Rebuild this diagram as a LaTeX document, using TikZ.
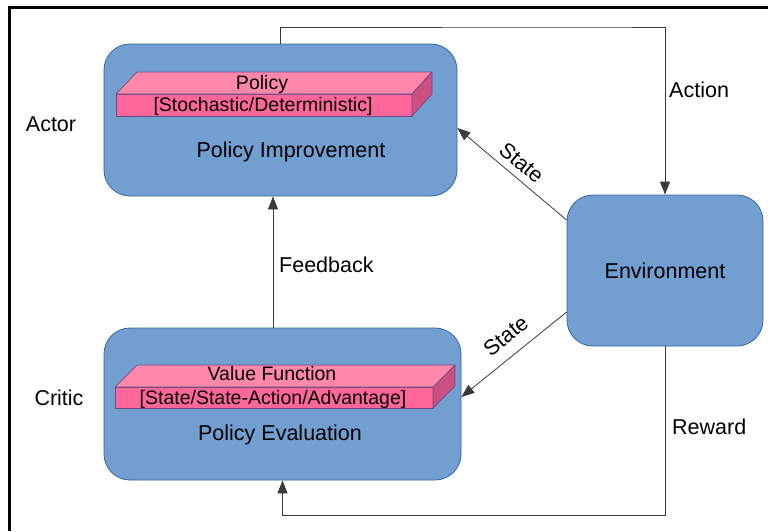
\documentclass[tikz,border=0pt]{standalone}
\usepackage{fontspec}
\setmainfont{Liberation Sans}
\usetikzlibrary{arrows.meta}

\definecolor{boxfill}{HTML}{729FCF}
\definecolor{boxline}{HTML}{3465A4}
\definecolor{barfront}{HTML}{FF6699}
\definecolor{bartop}{HTML}{FF88AA}
\definecolor{barside}{HTML}{CC5080}
\definecolor{baredge}{HTML}{6B4C8A}
\definecolor{wire}{HTML}{3A3A3A}

\newcommand\bigtxt{\fontsize{21.5pt}{26pt}\selectfont}
\newcommand\smalltxt{\fontsize{19.5pt}{23pt}\selectfont}

\tikzset{
  block/.style={draw=boxline, fill=boxfill, line width=0.8pt,
    rounded corners=26pt, inner sep=0pt, font=\bigtxt},
  lbl/.style={inner sep=0pt, text height=15.5pt, text depth=0pt, font=\bigtxt},
  barlbl/.style={inner sep=0pt, text height=14pt, text depth=0pt, font=\smalltxt},
  barface/.style={draw=baredge, line width=0.7pt, line join=round},
  flow/.style={draw=wire, line width=0.8pt,
    -{Triangle[length=13pt,width=10pt]}},
}

\begin{document}
\begin{tikzpicture}[x=1pt,y=-1pt]
\useasboundingbox (0,0) rectangle (768,531);

% outer frame (top and left edges)
\draw[line width=2.6pt] (768,7.5) -- (9.5,7.5) -- (9.5,531);

% main blocks
\node[block, minimum width=353pt, minimum height=152pt] (actor) at (280.5,120) {};
\node[block, minimum width=357pt, minimum height=152pt] (critic) at (282.5,404) {};
\node[block, minimum width=196pt, minimum height=151pt] (env) at (665,270.5) {Environment};

% policy slab
\fill[barfront] (116,94) rectangle (412,116);
\draw[barface] (116,94) rectangle (412,116);
\draw[barface, fill=bartop] (116,94) -- (137,72) -- (432,72) -- (412,94) -- cycle;
\draw[barface, fill=barside] (412,94) -- (432,72) -- (432,94) -- (412,116) -- cycle;

% value-function slab
\fill[barfront] (115,387) rectangle (433,408);
\draw[barface] (115,387) rectangle (433,408);
\draw[barface, fill=bartop] (115,387) -- (137,365) -- (455,365) -- (433,387) -- cycle;
\draw[barface, fill=barside] (433,387) -- (455,365) -- (455,386) -- (433,408) -- cycle;

% texts inside blocks
\node[barlbl] (pol) at (262,82) {Policy};
\node[barlbl] (poltype) at (263,104) {[Stochastic/Deterministic]};
\node[lbl] (pimp) at (291,150) {Policy Improvement};
\node[barlbl] (vf) at (272,373) {Value Function};
\node[barlbl] (vftype) at (273,397) {[State/State-Action/Advantage]};
\node[lbl] (peval) at (280,433) {Policy Evaluation};

% role labels
\node[lbl] (actorlbl) at (51,124) {Actor};
\node[lbl] (criticlbl) at (59,398) {Critic};

% action: actor -> environment
\coordinate (atop) at (600,27);
\draw[flow] (actor.north) |- (atop) -| (env.north);
\node[lbl, anchor=west] (actionlbl) at (669,90) {Action};

% state to actor and critic
\draw[flow] ([yshift=50.5pt]env.west) --
  node[lbl, sloped, above=7pt] (s1) {State} ([yshift=-8pt]actor.east);
\draw[flow] ([yshift=-41.5pt]env.west) --
  node[lbl, sloped, above=12pt, pos=0.46] (s2) {State} ([yshift=7pt]critic.east);

% feedback: critic -> actor
\coordinate (fbx) at (273,0);
\draw[flow] (critic.north -| fbx) -- (actor.south -| fbx);
\node[lbl, anchor=west] (fblbl) at (279,265) {Feedback};

% reward: environment -> critic
\coordinate (rb) at (0,515);
\draw[flow] (env.south) -- (env.south |- rb) -| (critic.south);
\node[lbl, anchor=west] (rwlbl) at (672,427) {Reward};
\end{tikzpicture}
\end{document}
